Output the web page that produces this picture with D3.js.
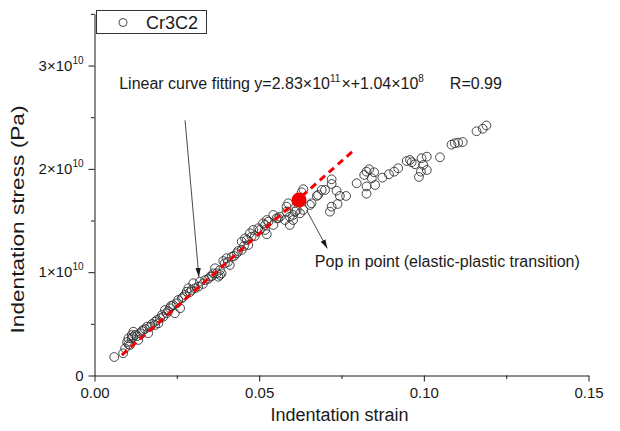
<!DOCTYPE html>
<html>
<head>
<meta charset="utf-8">
<script src="https://cdn.jsdelivr.net/npm/d3@7"></script>
<style>
  body { margin: 0; background: #fff; }
  svg { font-family: "Liberation Sans", Arial, Helvetica, sans-serif; }
</style>
</head>
<body>
<svg id="chart" width="620" height="431"></svg>
<script>
// values: strain (-) and stress (in 1e9 Pa)
const strain = [
  0.0060, 0.0087, 0.0093, 0.0103, 0.0108, 0.0113, 0.0103, 0.0113, 0.0123, 0.0133,
  0.0138, 0.0118, 0.0148, 0.0163, 0.0159, 0.0169, 0.0184, 0.0184, 0.0194, 0.0199,
  0.0209, 0.0219, 0.0244, 0.0214, 0.0229, 0.0260, 0.0239, 0.0250, 0.0254, 0.0265,
  0.0275, 0.0280, 0.0295, 0.0305, 0.0315, 0.0285, 0.0300, 0.0320, 0.0336, 0.0351,
  0.0361, 0.0371, 0.0381, 0.0381, 0.0376, 0.0386, 0.0366, 0.0391, 0.0396, 0.0411,
  0.0401, 0.0417, 0.0432, 0.0447, 0.0467, 0.0447, 0.0457, 0.0462, 0.0477, 0.0472,
  0.0482, 0.0497, 0.0518, 0.0523, 0.0512, 0.0528, 0.0553, 0.0502, 0.0518, 0.0543,
  0.0523, 0.0543, 0.0558, 0.0563, 0.0578, 0.0593, 0.0593, 0.0583, 0.0583, 0.0588,
  0.0603, 0.0603, 0.0609, 0.0614, 0.0624, 0.0634, 0.0654, 0.0659, 0.0634, 0.0629,
  0.0675, 0.0679, 0.0690, 0.0700, 0.0720, 0.0720, 0.0735, 0.0764, 0.0738, 0.0720,
  0.0715, 0.0745, 0.0796, 0.0826, 0.0819, 0.0834, 0.0849, 0.0842, 0.0852, 0.0826,
  0.0826, 0.0874, 0.0894, 0.0910, 0.0922, 0.0948, 0.0958, 0.0963, 0.0973, 0.0993,
  0.1009, 0.0998, 0.1009, 0.0991, 0.0985, 0.1049, 0.1084, 0.1094, 0.1104, 0.1118,
  0.1160, 0.1179, 0.1190,
  0.0099, 0.0117, 0.0129, 0.0144, 0.0153, 0.0175, 0.0190, 0.0205, 0.0224, 0.0232,
  0.0269, 0.0290, 0.0329, 0.0345, 0.0357, 0.0405, 0.0424, 0.0436, 0.0454, 0.0487
];
const stress = [
  1.79, 2.15, 2.63, 3.02, 2.95, 3.60, 3.60, 3.92, 3.92, 3.44,
  4.09, 4.24, 4.40, 4.09, 4.72, 4.72, 4.89, 5.21, 5.05, 5.54,
  5.69, 6.02, 6.02, 6.34, 6.51, 6.51, 6.82, 6.99, 7.31, 7.47,
  7.79, 8.11, 8.28, 8.44, 8.60, 8.44, 8.93, 9.08, 9.24, 9.56,
  9.89, 9.89, 9.73, 10.21, 9.56, 9.89, 10.38, 11.08, 10.86, 10.70,
  11.35, 11.50, 11.83, 12.15, 12.63, 12.95, 13.28, 13.12, 13.44, 13.77,
  14.09, 14.25, 14.09, 13.67, 14.73, 14.89, 15.22, 14.09, 14.57, 14.57,
  15.05, 15.54, 15.22, 15.37, 15.05, 14.57, 15.37, 15.86, 16.34, 16.67,
  15.54, 15.05, 15.86, 16.02, 15.70, 16.02, 16.51, 16.67, 18.03, 17.73,
  17.38, 17.47, 17.96, 17.96, 18.99, 18.54, 17.89, 17.38, 16.60, 16.34,
  15.86, 17.38, 18.61, 19.73, 19.41, 19.96, 19.67, 19.09, 18.44, 18.30,
  17.60, 19.15, 19.48, 19.73, 20.06, 20.76, 20.86, 20.64, 20.45, 21.03,
  21.18, 20.38, 19.89, 19.73, 19.22, 21.12, 22.34, 22.48, 22.54, 22.60,
  23.64, 23.89, 24.20,
  3.24, 3.73, 3.82, 4.31, 4.50, 4.99, 5.37, 5.86, 6.24, 6.73,
  7.60, 8.08, 8.86, 9.34, 9.63, 10.99, 11.57, 12.05, 12.54, 13.50
];

const popIn = [0.0621, 16.99];
const fitStrain = [0.0083, 0.0791];
const fitStress = [1.98, 21.9];

const xMajor = [0, 0.05, 0.10, 0.15];
const xMinor = [0.025, 0.075, 0.125];
const xTickLabels = ['0.00', '0.05', '0.10', '0.15'];
const yMajor = [0, 10, 20, 30];
const yMinor = [5, 15, 25, 35];
const yTickLabels = [['0', ''], ['1×10', '10'], ['2×10', '10'], ['3×10', '10']];

const svg = d3.select('#chart');
const x = d3.scaleLinear().domain([0, 0.15]).range([94.5, 588.5]);
const y = d3.scaleLinear().domain([0, 35]).range([375.5, 13.9]);
const ink = '#1a1a1a';

// arrow head
svg.append('defs').append('marker')
  .attr('id', 'head')
  .attr('viewBox', '0 0 10 10')
  .attr('refX', 10).attr('refY', 5)
  .attr('markerUnits', 'userSpaceOnUse')
  .attr('markerWidth', 9).attr('markerHeight', 9)
  .attr('orient', 'auto')
  .append('path').attr('d', 'M0,2 L10,5 L0,8 Z').attr('fill', ink);

// axes
const gx = svg.append('g').attr('transform', `translate(0,${y(0)})`)
  .call(d3.axisBottom(x).tickValues(xMajor).tickSize(6).tickSizeOuter(0).tickPadding(6)
    .tickFormat((d, i) => xTickLabels[i]));
svg.append('g').attr('transform', `translate(0,${y(0)})`)
  .call(d3.axisBottom(x).tickValues(xMinor).tickSize(3.5).tickFormat(''))
  .call(g => g.select('.domain').remove());

const gy = svg.append('g').attr('transform', `translate(${x(0)},0)`)
  .call(d3.axisLeft(y).tickValues(yMajor).tickSize(6).tickSizeOuter(0).tickPadding(5)
    .tickFormat(''));
svg.append('g').attr('transform', `translate(${x(0)},0)`)
  .call(d3.axisLeft(y).tickValues(yMinor).tickSize(3.5).tickFormat(''))
  .call(g => g.select('.domain').remove());

svg.selectAll('.domain, .tick line').attr('stroke', ink).attr('stroke-width', 1);
gx.selectAll('text').attr('font-size', 15).attr('fill', ink).attr('font-family', null);

gy.selectAll('.tick text').each(function (d, i) {
  const t = d3.select(this).attr('font-size', 15).attr('fill', ink).attr('font-family', null);
  t.append('tspan').text(yTickLabels[i][0]);
  if (yTickLabels[i][1]) {
    t.append('tspan').attr('dy', -7).attr('font-size', 10).text(yTickLabels[i][1]);
  }
});

// axis titles
svg.append('text')
  .attr('x', (x(0) + x(0.15)) / 2 - 2).attr('y', 421)
  .attr('text-anchor', 'middle').attr('font-size', 18).attr('fill', ink)
  .text('Indentation strain');
svg.append('text')
  .attr('transform', `translate(24,${y(15.1)}) rotate(-90)`)
  .attr('text-anchor', 'middle').attr('font-size', 19).attr('fill', ink)
  .attr('textLength', 228).attr('lengthAdjust', 'spacingAndGlyphs')
  .text('Indentation stress (Pa)');

// scatter
svg.append('g').selectAll('circle')
  .data(d3.range(strain.length))
  .join('circle')
  .attr('cx', i => x(strain[i]))
  .attr('cy', i => y(stress[i]))
  .attr('r', 4.4)
  .attr('fill', 'none')
  .attr('stroke', '#333')
  .attr('stroke-width', 0.9);

// fit line
svg.append('path')
  .attr('d', d3.line()([[x(fitStrain[0]), y(fitStress[0])], [x(fitStrain[1]), y(fitStress[1])]]))
  .attr('stroke', '#f20000').attr('stroke-width', 3).attr('stroke-dasharray', '7,5')
  .attr('fill', 'none');

// pop in point
svg.append('circle')
  .attr('cx', x(popIn[0])).attr('cy', y(popIn[1]))
  .attr('r', 7.5).attr('fill', '#f20000');

// annotations
svg.append('line')
  .attr('x1', x(0.0275)).attr('y1', y(24.7))
  .attr('x2', x(0.0317)).attr('y2', y(9.54))
  .attr('stroke', ink).attr('stroke-width', 0.8).attr('marker-end', 'url(#head)');
svg.append('line')
  .attr('x1', x(0.0644)).attr('y1', y(16.0))
  .attr('x2', x(0.0707)).attr('y2', y(12.3))
  .attr('stroke', ink).attr('stroke-width', 0.8).attr('marker-end', 'url(#head)');

const fitText = svg.append('text')
  .attr('x', x(0.0075)).attr('y', y(27.7))
  .attr('font-size', 16).attr('fill', ink);
fitText.append('tspan').text('Linear curve fitting y=2.83×10');
fitText.append('tspan').attr('dy', -7).attr('font-size', 10).text('11');
fitText.append('tspan').attr('dy', 7).attr('dx', 1).text('×+1.04×10');
fitText.append('tspan').attr('dy', -7).attr('font-size', 10).text('8');
svg.append('text')
  .attr('x', x(0.1079)).attr('y', y(27.7))
  .attr('font-size', 16).attr('fill', ink)
  .text('R=0.99');

svg.append('text')
  .attr('x', x(0.0669)).attr('y', y(10.5))
  .attr('font-size', 16).attr('fill', ink)
  .text('Pop in point (elastic-plastic transition)');

// legend
const lg = svg.append('g');
lg.append('rect').attr('x', 96.5).attr('y', 10.5).attr('width', 110).attr('height', 23)
  .attr('fill', '#fff').attr('stroke', '#333').attr('stroke-width', 1);
lg.append('circle').attr('cx', 123).attr('cy', 22.5).attr('r', 4)
  .attr('fill', 'none').attr('stroke', '#333').attr('stroke-width', 0.9);
lg.append('text').attr('x', 146).attr('y', 29).attr('font-size', 18).attr('fill', ink)
  .text('Cr3C2');
</script>
</body>
</html>
